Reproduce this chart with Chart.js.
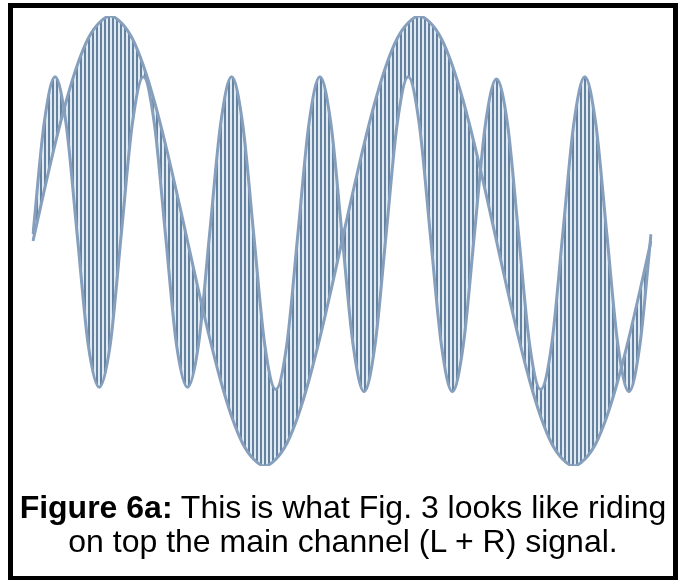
<!DOCTYPE html>
<html>
<head>
<meta charset="utf-8">
<script src="https://cdn.jsdelivr.net/npm/chart.js@4"></script>
<style>
  html, body { margin:0; padding:0; background:#fff; }
  body { width:679px; height:580px; position:relative; overflow:hidden; }
  #frame { position:absolute; left:8px; top:3px; width:670px; height:578px; border:5px solid #000; box-sizing:border-box; }
  #c { position:absolute; left:0; top:0; }
  #cap { position:absolute; left:8px; width:670px; top:490px; text-align:center; white-space:nowrap;
         font-family:"Liberation Sans", Arial, sans-serif; font-size:32px; line-height:34px; color:#000; }
</style>
</head>
<body>
<div id="frame"></div>
<canvas id="c" width="679" height="580"></canvas>
<div id="cap"><b>Figure 6a:</b> This is what Fig. 3 looks like riding<br>on top the main channel (L + R) signal.</div>
<script>
// time axis (arbitrary units)
const times = [0,0.125,0.25,0.375,0.5,0.625,0.75,0.875,1,1.125,1.25,1.375,1.5,1.625,1.75,1.875,2,2.125,2.25,2.375,2.5,2.625,2.75,2.875,3,3.125,3.25,3.375,3.5,3.625,3.75,3.875,4,4.125,4.25,4.375,4.5,4.625,4.75,4.875,5,5.125,5.25,5.375,5.5,5.625,5.75,5.875,6,6.125,6.25,6.375,6.5,6.625,6.75,6.875,7];
// slow signal (large swing)
const slowSignal = [0,0.22,0.43,0.62,0.78,0.90,0.97,1.00,0.97,0.90,0.78,0.62,0.43,0.22,0,-0.22,-0.43,-0.62,-0.78,-0.90,-0.97,-1.00,-0.97,-0.90,-0.78,-0.62,-0.43,-0.22,0,
                    0.22,0.43,0.62,0.78,0.90,0.97,1.00,0.97,0.90,0.78,0.62,0.43,0.22,0,-0.22,-0.43,-0.62,-0.78,-0.90,-0.97,-1.00,-0.97,-0.90,-0.78,-0.62,-0.43,-0.22,0];
// fast signal
const fastSignal = [0.03,0.52,0.73,0.52,0.03,-0.46,-0.65,-0.46,
                    0.03,0.52,0.73,0.52,0.03,-0.46,-0.65,-0.46,
                    0.03,0.52,0.73,0.52,0.03,-0.46,-0.66,-0.46,
                    0.03,0.52,0.73,0.52,0.03,-0.46,-0.67,-0.46,
                    0.03,0.52,0.73,0.52,0.03,-0.46,-0.67,-0.46,
                    0.03,0.52,0.72,0.52,0.03,-0.46,-0.66,-0.46,
                    0.03,0.52,0.73,0.52,0.03,-0.46,-0.67,-0.46,
                    0.03];

const stripeCanvas = document.createElement('canvas');
stripeCanvas.width = 4; stripeCanvas.height = 4;
const sctx = stripeCanvas.getContext('2d');
sctx.fillStyle = '#dfeaf2'; sctx.fillRect(0,0,4,4);
sctx.fillStyle = '#6582a0'; sctx.fillRect(0,0,2,4);
const ctx = document.getElementById('c').getContext('2d');
const stripes = ctx.createPattern(stripeCanvas, 'repeat');

new Chart(ctx, {
  type: 'line',
  data: {
    labels: times,
    datasets: [
      { label: 'slow', data: slowSignal, borderColor: '#869fbd', borderWidth: 3, pointRadius: 0,
        cubicInterpolationMode: 'monotone', fill: false },
      { label: 'fast', data: fastSignal, borderColor: '#869fbd', borderWidth: 3, pointRadius: 0,
        cubicInterpolationMode: 'monotone', fill: { target: 0 }, backgroundColor: stripes }
    ]
  },
  options: {
    responsive: false,
    animation: false,
    devicePixelRatio: 1,
    layout: { padding: { left: 33, right: 28, top: 16, bottom: 114 } },
    plugins: { legend: { display: false }, tooltip: { enabled: false } },
    scales: {
      x: { display: false, offset: false },
      y: { display: false, min: -1, max: 1 }
    }
  }
});
</script>
</body>
</html>
